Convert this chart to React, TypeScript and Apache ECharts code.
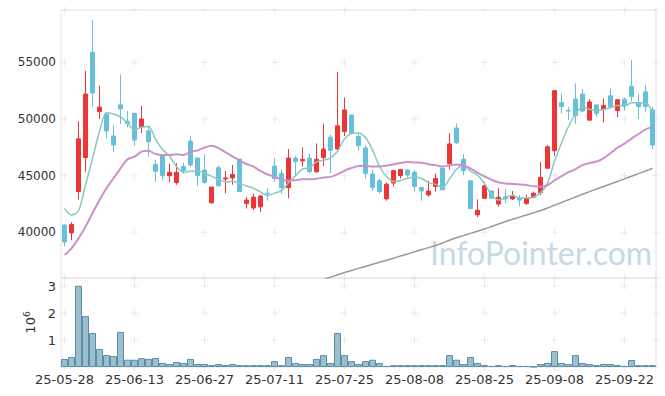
import React, { useEffect, useRef } from 'react';
import * as echarts from 'echarts';

const dates = [
  '25-05-28','25-05-29','25-05-30',
  '25-06-02','25-06-04','25-06-05','25-06-09','25-06-10','25-06-11','25-06-12','25-06-13','25-06-16','25-06-17','25-06-18','25-06-19','25-06-20','25-06-23','25-06-24','25-06-25','25-06-26','25-06-27','25-06-30',
  '25-07-01','25-07-02','25-07-03','25-07-04','25-07-07','25-07-08','25-07-09','25-07-10','25-07-11','25-07-14','25-07-15','25-07-16','25-07-17','25-07-18','25-07-21','25-07-22','25-07-23','25-07-24','25-07-25','25-07-28','25-07-29','25-07-30','25-07-31',
  '25-08-01','25-08-04','25-08-05','25-08-06','25-08-07','25-08-08','25-08-11','25-08-12','25-08-13','25-08-14','25-08-18','25-08-19','25-08-20','25-08-21','25-08-22','25-08-25','25-08-26','25-08-27','25-08-28','25-08-29',
  '25-09-01','25-09-02','25-09-03','25-09-04','25-09-05','25-09-08','25-09-09','25-09-10','25-09-11','25-09-12','25-09-15','25-09-16','25-09-17','25-09-18','25-09-19','25-09-22','25-09-23','25-09-24','25-09-25','25-09-26'
];

const opens = [
  40650,39950,43600,46600,55900,50650,50450,48500,51250,49800,
  50500,49300,48950,46000,46750,45000,44400,45800,48050,46550,
  45500,42600,45700,44700,44800,46450,42550,42150,42250,43450,
  45850,45200,43950,46550,46300,46550,45350,46600,48400,47350,
  48900,50350,48450,47450,45150,44550,42950,44350,45000,45500,
  45300,43950,43300,44050,45650,46050,49200,46450,44550,41550,
  43000,43650,42500,43150,42950,43000,42550,43100,43500,45650,
  47200,51450,50750,51750,52200,49900,51250,50850,52050,50750,
  51750,52900,51450,52400,50800
];
const closes = [
  39150,40700,48250,52200,52300,51050,48950,47700,50900,49600,
  48150,50000,48000,45400,45000,45300,45300,45450,45950,45000,
  44400,44000,44100,44800,45100,43600,42850,43100,43200,43400,
  44750,43950,46550,46250,46450,45350,46450,47350,47250,49400,
  50800,48750,47650,45200,43950,43600,44250,45450,45550,45050,
  44050,43650,43650,44750,43750,47800,47900,45450,42100,41950,
  44100,43000,43100,42950,43250,42850,43000,43450,44850,47550,
  52500,51100,50700,50300,50700,51500,50500,51200,51100,51700,
  51200,52000,51100,51100,47700
];
const lows = [
  38750,39300,42900,45350,51100,50000,48300,47100,49550,49250,
  47650,48750,46650,44450,44600,44400,44200,45200,45800,44100,
  44300,42550,44100,43450,44200,43600,42100,41950,41800,42800,
  44450,43400,43000,44900,45800,45200,45250,45850,45200,47100,
  48500,48700,47200,44750,43650,43400,42800,44050,44750,44850,
  43600,42800,43150,43600,43750,45550,47800,45050,42100,41350,
  43000,43000,42250,42550,42850,42300,42400,43000,43300,45650,
  46750,50500,49900,49550,50650,49900,50200,49700,50950,50150,
  50750,51550,50000,50650,47350
];
const highs = [
  40700,40900,49800,54250,58750,52950,50650,49450,53950,50700,
  50550,51150,49450,46400,46800,46050,46100,46150,48500,46600,
  46900,44000,45900,45400,45950,46500,43100,43400,43300,43900,
  46550,45550,47350,46750,47500,46950,47850,49600,48600,54150,
  51900,50400,48750,47700,45550,44750,44400,45500,45600,45550,
  45500,44000,44550,45200,45700,48750,49600,46900,44600,42900,
  44400,43700,43900,43800,43650,43300,43300,43600,46200,47700,
  52550,52250,51050,53150,52650,51750,51250,51800,52700,51750,
  51900,55200,52200,53000,51100
];

const volumes = [
  300000,370000,3010000,1890000,1260000,670000,440000,410000,1300000,270000,
  270000,330000,300000,330000,150000,110000,190000,150000,300000,110000,
  110000,70000,110000,70000,110000,70000,70000,70000,70000,70000,
  220000,70000,370000,150000,110000,110000,300000,440000,150000,1260000,
  440000,220000,110000,220000,270000,150000,40000,70000,70000,70000,
  70000,70000,70000,70000,70000,440000,270000,110000,370000,150000,
  70000,40000,70000,40000,70000,40000,40000,10000,110000,150000,
  590000,150000,110000,440000,150000,110000,70000,110000,110000,70000,
  40000,260000,70000,70000,70000
];

const ma5 = [
  42120,41530,41880,44180,46520,48900,50550,50440,50180,49640,
  49060,49270,49330,48230,47310,46740,45800,45290,45400,45400,
  45220,44960,44690,44460,44480,44320,44090,43890,43570,43230,
  43460,43680,44370,44980,45590,45710,46210,46370,46570,47160,
  48250,48710,48770,48360,47270,45830,44930,44490,44560,44780,
  44870,44750,44390,44230,43970,44720,45570,45930,45400,45040,
  44300,43320,42850,43020,43280,43030,43030,43100,43480,44340,
  46270,47890,49340,50430,51060,50860,50740,50840,51000,51200,
  51140,51440,51420,51420,50620
];
const ma20 = [
  38000,38590,39470,40500,41680,42850,43890,44770,45650,46440,
  46670,47120,47200,46910,46820,46820,46890,46820,47120,47218,
  47480,47645,47438,47068,46708,46335,46030,45800,45415,45105,
  44935,44633,44560,44603,44675,44678,44735,44830,44895,45115,
  45435,45673,45850,45870,45813,45813,45883,46000,46118,46200,
  46165,46150,46005,45930,45795,45918,45990,45895,45638,45265,
  44930,44643,44415,44303,44268,44230,44168,44068,44033,44158,
  44580,44953,45305,45583,45930,46115,46245,46533,46983,47470,
  47825,48275,48675,49083,49305
];
const maLong = [
  null,null,null,null,null,null,null,null,null,null,
  null,null,null,null,null,null,null,null,null,null,
  null,null,null,null,null,null,null,null,null,null,
  null,null,null,null,null,null,35700,35850,36040,36250,
  36450,36640,36820,36990,37180,37360,37540,37720,37910,38090,
  38280,38470,38650,38840,39060,39300,39520,39710,39910,40100,
  40290,40510,40730,40950,41150,41340,41530,41720,41920,42150,
  42390,42630,42880,43120,43360,43590,43820,44040,44260,44490,
  44720,44950,45180,45410,45650
];

const priceMin = 35970;
const priceMax = 59620;
const volMax = 3300000;
const crossX = [0, 10, 20, 30, 40, 50, 60, 70, 80, 84.5];
const priceCrossY = [priceMin, 40000, 45000, 50000, 55000, priceMax];
const volCrossY = [0, 1000000, 2000000, 3000000, volMax];

const UP = '#ee3535';
const DOWN = '#67bfdb';
const FONT = 'DejaVu Sans';
const PLUS = 'path://M3,0h1v3h3v1h-3v3h-1v-3h-3v-1h3z';

export default function App() {
  const ref = useRef<HTMLDivElement>(null);
  useEffect(() => {
    document.body.style.margin = '0';
    const chart = echarts.init(ref.current as HTMLDivElement, null, { renderer: 'svg' });
    const candleData = dates.map((_, i) => [opens[i], closes[i], lows[i], highs[i]]);
    const priceCross: number[][] = [];
    crossX.forEach((x) => priceCrossY.forEach((y) => priceCross.push([x, y])));
    const volCross: number[][] = [];
    crossX.forEach((x) => volCrossY.forEach((y) => volCross.push([x, y])));

    chart.setOption({
      animation: false,
      backgroundColor: '#ffffff',
      textStyle: { fontFamily: FONT },
      grid: [
        { left: 61, right: 9, top: 10, height: 268, show: true, borderColor: '#e4e4e4', borderWidth: 1 },
        { left: 61, right: 9, top: 278, height: 89, show: true, borderColor: '#e4e4e4', borderWidth: 1 },
      ],
      xAxis: [
        { type: 'category', gridIndex: 0, data: dates, boundaryGap: true,
          axisLine: { show: false }, axisTick: { show: false }, axisLabel: { show: false }, splitLine: { show: false } },
        { type: 'category', gridIndex: 1, data: dates, boundaryGap: true,
          axisLine: { show: false }, axisTick: { show: false }, splitLine: { show: false },
          axisLabel: { interval: 9, fontSize: 13, color: '#333', margin: 6, fontFamily: FONT } },
        { type: 'value', gridIndex: 0, min: -0.5, max: 84.5, show: false },
        { type: 'value', gridIndex: 1, min: -0.5, max: 84.5, show: false },
      ],
      yAxis: [
        { type: 'value', gridIndex: 0, min: priceMin, max: priceMax, scale: true,
          axisLine: { show: false }, axisTick: { show: false }, splitLine: { show: false },
          axisLabel: { fontSize: 12, color: '#333', margin: 5, fontFamily: FONT,
            formatter: (v: number) => (v % 5000 === 0 ? String(v) : '') } },
        { type: 'value', gridIndex: 1, min: 0, max: volMax, interval: 1000000,
          axisLine: { show: false }, axisTick: { show: false }, splitLine: { show: false },
          axisLabel: { fontSize: 13, color: '#333', margin: 5, fontFamily: FONT,
            formatter: (v: number) => (v > 0 && v % 1000000 === 0 ? String(v / 1000000) : '') },
          name: '{b|10}{s|6}', nameLocation: 'middle', nameRotate: 90, nameGap: 21,
          nameTextStyle: { rich: {
            b: { fontSize: 13, color: '#333', fontFamily: FONT, lineHeight: 16 },
            s: { fontSize: 9, color: '#333', fontFamily: FONT, verticalAlign: 'top', lineHeight: 16 },
          } } },
      ],
      graphic: [
        { type: 'text', left: 430, top: 236, z: 0, silent: true,
          style: { text: 'InfoPointer.com', fill: '#c6d9e4', font: '32px Lato' } },
      ],
      series: [
        { type: 'scatter', xAxisIndex: 2, yAxisIndex: 0, data: priceCross, symbol: PLUS, symbolSize: 7,
          itemStyle: { color: '#e3e3e3' }, clip: false, silent: true, z: 1 },
        { type: 'scatter', xAxisIndex: 3, yAxisIndex: 1, data: volCross, symbol: PLUS, symbolSize: 7,
          itemStyle: { color: '#e3e3e3' }, clip: false, silent: true, z: 1 },
        { type: 'candlestick', xAxisIndex: 0, yAxisIndex: 0, data: candleData, barWidth: 5, z: 3,
          itemStyle: { color: UP, color0: DOWN, borderColor: UP, borderColor0: DOWN, borderWidth: 1 } },
        { type: 'line', xAxisIndex: 0, yAxisIndex: 0, data: ma5, symbol: 'none', smooth: 0.3, z: 4,
          lineStyle: { color: '#88c9bc', width: 1.5 } },
        { type: 'line', xAxisIndex: 0, yAxisIndex: 0, data: ma20, symbol: 'none', smooth: 0.3, z: 4,
          lineStyle: { color: '#cc92c7', width: 2 } },
        { type: 'line', xAxisIndex: 0, yAxisIndex: 0, data: maLong, symbol: 'none', smooth: 0.3, z: 4,
          connectNulls: false, lineStyle: { color: '#999999', width: 1.5 } },
        { type: 'bar', xAxisIndex: 1, yAxisIndex: 1, data: volumes, barCategoryGap: '0%', z: 3,
          itemStyle: { color: 'rgba(118,166,190,0.72)', borderColor: '#5a8ea8', borderWidth: 1 } },
      ],
    });
    return () => chart.dispose();
  }, []);
  return <div ref={ref} style={{ width: 665, height: 396 }} />;
}
